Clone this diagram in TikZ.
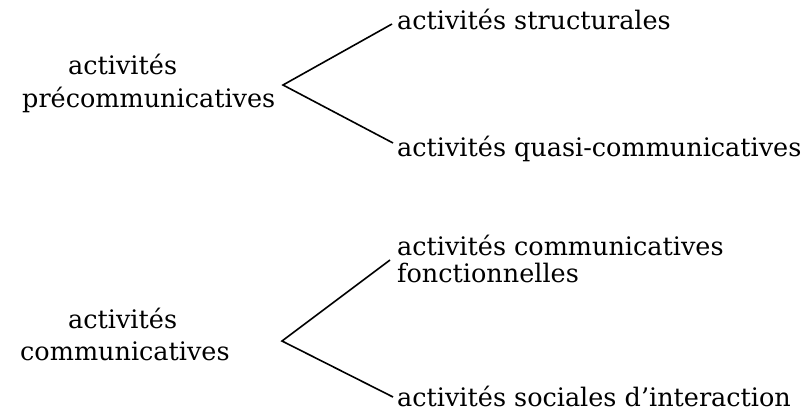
\documentclass[tikz,border=0pt]{standalone}
\usepackage{fontspec}
\setmainfont{DejaVu Serif}
\begin{document}
\begin{tikzpicture}[x=1pt,y=-1pt,
  lbl/.style={anchor=base west,inner sep=0pt,font=\fontsize{25.5}{30}\selectfont},
  br/.style={line width=1.6pt,line join=miter}]
\useasboundingbox (0,0) rectangle (807,412);
% top group
\node[lbl] (a1) at (68,75) {activités};
\node[lbl] (a2) at (22,108) {précommunicatives};
\node[lbl] (s1) at (397,30) {activités structurales};
\node[lbl] (s2) at (397,157) {activités quasi-communicatives};
\coordinate (v1) at (283,85);
\coordinate (e1) at (392,24);
\coordinate (e2) at (393,143);
\draw[br] (e1) -- (v1) -- (e2);
% bottom group
\node[lbl] (b1) at (68,328) {activités};
\node[lbl] (b2) at (20,360) {communicatives};
\node[lbl] (c1) at (397,255) {activités communicatives};
\node[lbl] (c2) at (397,282) {fonctionnelles};
\node[lbl] (c3) at (397,406) {activités sociales d’interaction};
\coordinate (v2) at (282,341);
\coordinate (f1) at (390,260);
\coordinate (f2) at (393,397);
\draw[br] (f1) -- (v2) -- (f2);
\end{tikzpicture}
\end{document}
